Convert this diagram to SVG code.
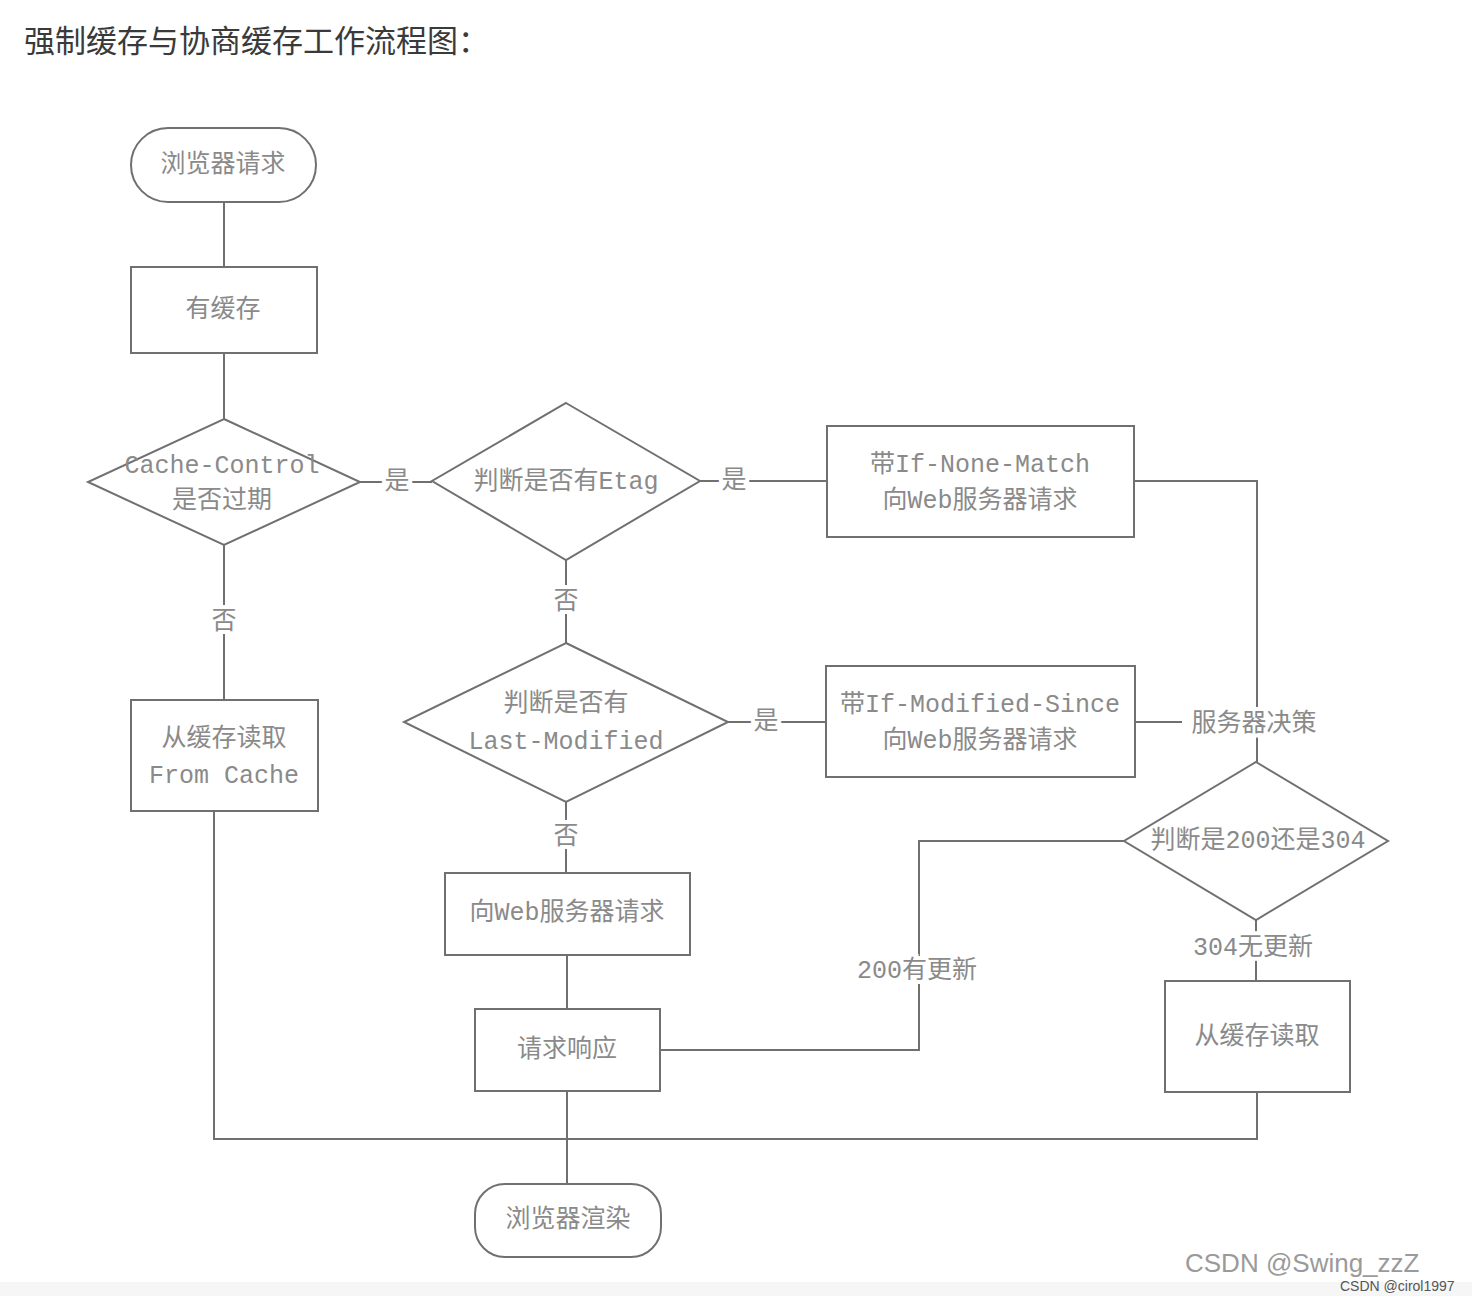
<svg xmlns="http://www.w3.org/2000/svg" width="1472" height="1296" viewBox="0 0 1472 1296">
<style>
.bg{fill:#ffffff}
.shape{fill:none;stroke:#707070;stroke-width:2}
.conn{fill:none;stroke:#707070;stroke-width:2}
.t{font-family:"Liberation Mono","Noto Sans CJK SC",monospace;font-size:25px;fill:#8a8a8a;text-anchor:middle;dominant-baseline:central}
.lbl{font-family:"Liberation Mono","Noto Sans CJK SC",monospace;font-size:25px;fill:#8a8a8a;text-anchor:middle;dominant-baseline:central;stroke:#ffffff;stroke-width:8;paint-order:stroke}
.title{font-family:"Noto Sans CJK SC","Noto Sans",sans-serif;font-size:31px;fill:#3a3a3a}
</style>
<rect class="bg" x="0" y="0" width="1472" height="1296"/>
<rect x="0" y="1282" width="1472" height="14" fill="#f6f6f6"/>
<text class="title" x="24" y="52">强制缓存与协商缓存工作流程图：</text>

<g id="connectors">
  <path class="conn" d="M224,202 V267"/>
  <path class="conn" d="M224,353 V419"/>
  <path class="conn" d="M224,545 V700"/>
  <path class="conn" d="M360,482 H432"/>
  <path class="conn" d="M700,481 H827"/>
  <path class="conn" d="M566,560 V643"/>
  <path class="conn" d="M728,722 H826"/>
  <path class="conn" d="M566,802 V873"/>
  <path class="conn" d="M567,955 V1009"/>
  <path class="conn" d="M1134,481 H1257 V762"/>
  <path class="conn" d="M1135,722 H1182"/>
  <path class="conn" d="M1124,841 H919 V1050 H660"/>
  <path class="conn" d="M1256,920 V981"/>
  <path class="conn" d="M214,811 V1139 H1257 V1092"/>
  <path class="conn" d="M567,1091 V1184"/>
  <text class="lbl" x="224" y="622">否</text>
  <text class="lbl" x="397" y="482">是</text>
  <text class="lbl" x="734" y="481">是</text>
  <text class="lbl" x="566" y="602">否</text>
  <text class="lbl" x="766" y="722">是</text>
  <text class="lbl" x="566" y="837">否</text>
  <text class="lbl" x="1254" y="724">服务器决策</text>
  <text class="lbl" x="917" y="971">200有更新</text>
  <text class="lbl" x="1253" y="948">304无更新</text>
</g>

<g id="n-browser-request">
  <rect class="shape" x="131" y="128" width="185" height="74" rx="37" ry="37"/>
  <text class="t" x="223" y="165">浏览器请求</text>
</g>
<g id="n-has-cache">
  <rect class="shape" x="131" y="267" width="186" height="86"/>
  <text class="t" x="223" y="310">有缓存</text>
</g>
<g id="n-cache-control">
  <polygon class="shape" points="224,419 360,482 224,545 88,482"/>
  <text class="t" x="222" y="466">Cache-Control</text>
  <text class="t" x="222" y="501">是否过期</text>
</g>
<g id="n-etag">
  <polygon class="shape" points="566,403 700,481 566,560 432,481"/>
  <text class="t" x="566" y="482">判断是否有Etag</text>
</g>
<g id="n-if-none-match">
  <rect class="shape" x="827" y="426" width="307" height="111"/>
  <text class="t" x="980" y="465">带If-None-Match</text>
  <text class="t" x="980" y="501">向Web服务器请求</text>
</g>
<g id="n-last-modified">
  <polygon class="shape" points="566,643 728,722 566,802 404,722"/>
  <text class="t" x="566" y="704">判断是否有</text>
  <text class="t" x="566" y="742">Last-Modified</text>
</g>
<g id="n-if-modified-since">
  <rect class="shape" x="826" y="666" width="309" height="111"/>
  <text class="t" x="980" y="705">带If-Modified-Since</text>
  <text class="t" x="980" y="741">向Web服务器请求</text>
</g>
<g id="n-200-304">
  <polygon class="shape" points="1256,762 1388,841 1256,920 1124,841"/>
  <text class="t" x="1258" y="841">判断是200还是304</text>
</g>
<g id="n-from-cache">
  <rect class="shape" x="131" y="700" width="187" height="111"/>
  <text class="t" x="224" y="739">从缓存读取</text>
  <text class="t" x="224" y="776">From Cache</text>
</g>
<g id="n-web-request">
  <rect class="shape" x="445" y="873" width="245" height="82"/>
  <text class="t" x="567" y="913">向Web服务器请求</text>
</g>
<g id="n-response">
  <rect class="shape" x="475" y="1009" width="185" height="82"/>
  <text class="t" x="567" y="1050">请求响应</text>
</g>
<g id="n-read-cache-right">
  <rect class="shape" x="1165" y="981" width="185" height="111"/>
  <text class="t" x="1257" y="1037">从缓存读取</text>
</g>
<g id="n-render">
  <rect class="shape" x="475" y="1184" width="186" height="73" rx="30" ry="30"/>
  <text class="t" x="568" y="1220">浏览器渲染</text>
</g>

<text x="1185" y="1272" font-family="Liberation Sans,Arial,sans-serif" font-size="26" fill="#9a9a9a">CSDN @Swing_zzZ</text>
<text x="1340" y="1291" font-family="Liberation Sans,Arial,sans-serif" font-size="14" fill="#555555">CSDN @cirol1997</text>
</svg>
